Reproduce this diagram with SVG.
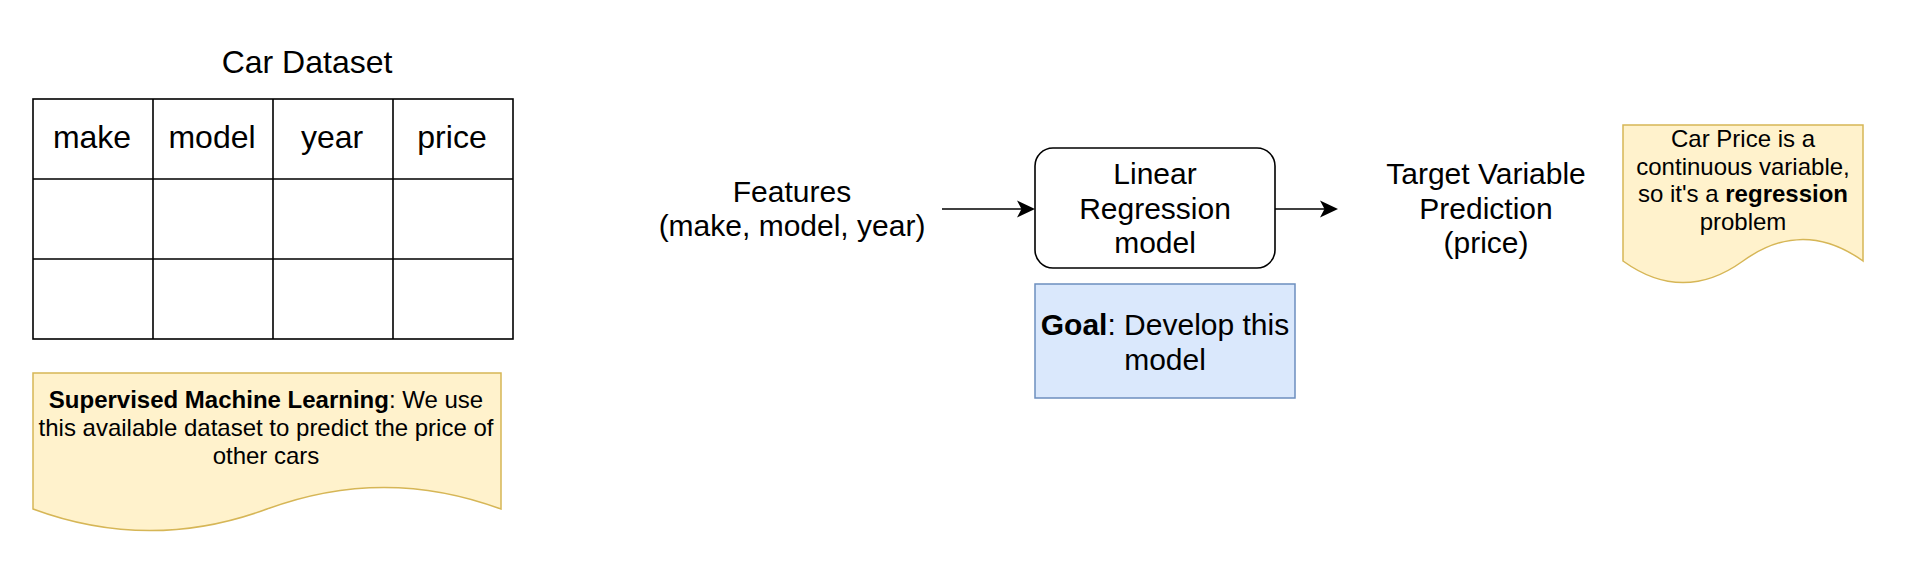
<svg xmlns="http://www.w3.org/2000/svg" width="1908" height="562" viewBox="0 0 1908 562">
  <style>
    text { font-family: "Liberation Sans", Arial, Helvetica, sans-serif; fill: #000; text-anchor: middle; }
    .t32 { font-size: 32px; }
    .t30 { font-size: 30px; }
    .t24 { font-size: 24px; }
    .b { font-weight: bold; }
    .grid { fill: none; stroke: #000; stroke-width: 1.6; }
    .note { fill: #fff2cc; stroke: #d6b656; stroke-width: 1.5; }
    .goal { fill: #dae8fc; stroke: #6c8ebf; stroke-width: 1.5; }
    .box { fill: #fff; stroke: #000; stroke-width: 1.6; }
    .edge { fill: none; stroke: #000; stroke-width: 1.6; }
  </style>
  <defs>
    <marker id="arr" markerUnits="userSpaceOnUse" markerWidth="20" markerHeight="20" viewBox="0 0 20 20" refX="13" refY="10" orient="auto">
      <path d="M18,10 L0,1.5 L4.5,10 L0,18.5 Z" fill="#000"/>
    </marker>
  </defs>

  <rect width="1908" height="562" fill="#fff"/>

  <g id="title">
    <text class="t32" x="307" y="73">Car Dataset</text>
  </g>

  <g id="table">
    <rect class="grid" x="33" y="99" width="480" height="240"/>
    <path class="grid" d="M153,99 V339 M273,99 V339 M393,99 V339 M33,179 H513 M33,259 H513"/>
    <text class="t32" x="92" y="148">make</text>
    <text class="t32" x="212" y="148">model</text>
    <text class="t32" x="332" y="148">year</text>
    <text class="t32" x="452" y="148">price</text>
  </g>

  <g id="note-supervised">
    <path class="note" d="M33,373 L501,373 L501,509 Q384,465.8 267,509 Q150,552.2 33,509 Z"/>
    <text class="t24" x="266" y="408"><tspan class="b">Supervised Machine Learning</tspan>: We use</text>
    <text class="t24" x="266" y="436">this available dataset to predict the price of</text>
    <text class="t24" x="266" y="464">other cars</text>
  </g>

  <g id="features">
    <text class="t30" x="792" y="202">Features</text>
    <text class="t30" x="792" y="236">(make, model, year)</text>
  </g>

  <g id="model">
    <rect class="box" x="1035" y="148" width="240" height="120" rx="18" ry="18"/>
    <text class="t30" x="1155" y="184">Linear</text>
    <text class="t30" x="1155" y="218.5">Regression</text>
    <text class="t30" x="1155" y="253">model</text>
  </g>

  <g id="goal">
    <rect class="goal" x="1035" y="284" width="260" height="114"/>
    <text class="t30" x="1165" y="335"><tspan class="b">Goal</tspan>: Develop this</text>
    <text class="t30" x="1165" y="369.5">model</text>
  </g>

  <g id="target">
    <text class="t30" x="1486" y="184">Target Variable</text>
    <text class="t30" x="1486" y="218.5">Prediction</text>
    <text class="t30" x="1486" y="253">(price)</text>
  </g>

  <g id="note-regression">
    <path class="note" d="M1623,125 L1863,125 L1863,261 Q1803,217.8 1743,261 Q1683,304.2 1623,261 Z"/>
    <text class="t24" x="1743" y="147">Car Price is a</text>
    <text class="t24" x="1743" y="174.5">continuous variable,</text>
    <text class="t24" x="1743" y="202">so it's a <tspan class="b">regression</tspan></text>
    <text class="t24" x="1743" y="229.5">problem</text>
  </g>

  <g id="connectors">
    <line class="edge" x1="942" y1="209" x2="1030" y2="209" marker-end="url(#arr)"/>
    <line class="edge" x1="1275" y1="209" x2="1333" y2="209" marker-end="url(#arr)"/>
  </g>
</svg>
